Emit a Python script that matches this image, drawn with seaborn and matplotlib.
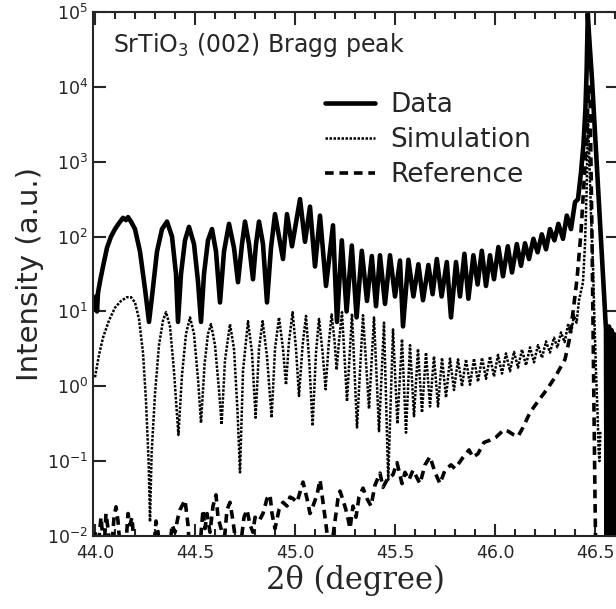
import numpy as np
import pandas as pd
import matplotlib
matplotlib.use('Agg')
import matplotlib.pyplot as plt
import seaborn as sns
from matplotlib.ticker import MultipleLocator, NullLocator, FixedLocator, FormatStrFormatter

# values: 2theta (degree) and log10(intensity)
data_x = [44.000, 44.005, 44.010, 44.015, 44.025, 44.040, 44.060, 44.080, 44.100, 44.120,
          44.140, 44.155, 44.165, 44.180, 44.200, 44.225, 44.250, 44.270, 44.285, 44.310,
          44.335, 44.360, 44.385, 44.405, 44.415, 44.430, 44.450, 44.470, 44.495, 44.515,
          44.530, 44.545, 44.565, 44.585, 44.605, 44.625, 44.645, 44.670, 44.695, 44.715,
          44.735, 44.750, 44.770, 44.790, 44.805, 44.820, 44.840, 44.860, 44.880, 44.900,
          44.920, 44.940, 44.960, 44.985, 45.025, 45.050, 45.075, 45.100, 45.125, 45.155,
          45.190, 45.210, 45.234, 45.258, 45.284, 45.308, 45.334, 45.360, 45.384, 45.405,
          45.425, 45.450, 45.475, 45.500, 45.525, 45.540, 45.567, 45.592, 45.617, 45.640,
          45.667, 45.688, 45.709, 45.733, 45.759, 45.780, 45.805, 45.825, 45.847, 45.867,
          45.892, 45.913, 45.934, 45.955, 45.975, 45.995, 46.017, 46.040, 46.064, 46.085,
          46.109, 46.130, 46.150, 46.170, 46.192, 46.213, 46.234, 46.255, 46.275, 46.297,
          46.317, 46.340, 46.359, 46.380, 46.400, 46.415, 46.430, 46.442, 46.452, 46.458,
          46.464, 46.470, 46.485, 46.500, 46.515, 46.530, 46.545, 46.555, 46.558, 46.562,
          46.567, 46.570, 46.574, 46.578, 46.583, 46.587, 46.590, 46.594, 46.598, 46.601,
          46.604, 46.608, 46.612]
data_log = [1.05, 1.2, 1.0, 1.25, 1.4, 1.6, 1.85, 2.0, 2.1, 2.18,
            2.25, 2.22, 2.26, 2.2, 2.1, 1.8, 1.3, 0.86, 1.2, 1.8,
            2.1, 2.2, 2.0, 1.5, 0.86, 1.5, 1.95, 2.13, 1.9, 1.4,
            0.86, 1.5, 1.95, 2.1, 1.8, 1.12, 1.8, 2.17, 1.85, 1.39,
            1.9, 2.2, 1.9, 1.43, 1.9, 2.2, 1.9, 1.12, 1.85, 2.3,
            2.0, 1.7, 2.3, 1.87, 2.5, 1.93, 2.4, 1.6, 2.28, 1.34,
            2.15, 0.86, 1.95, 1.0, 1.88, 0.92, 1.81, 1.14, 1.74, 1.07,
            1.75, 1.1, 1.75, 1.2, 1.68, 0.8, 1.69, 1.2, 1.63, 1.15,
            1.62, 1.23, 1.7, 1.2, 1.66, 0.92, 1.66, 1.2, 1.77, 1.17,
            1.75, 1.36, 1.81, 1.34, 1.75, 1.43, 1.86, 1.47, 1.87, 1.52,
            1.9, 1.61, 1.91, 1.7, 1.97, 1.79, 2.03, 1.83, 2.1, 1.95,
            2.17, 1.97, 2.28, 2.1, 2.46, 2.5, 2.86, 3.22, 3.7, 4.2,
            4.98, 4.7, 4.1, 3.39, 2.68, 1.97, 1.24, 0.75, -2.5, 0.7,
            0.35, 0.8, -2.5, 0.6, 0.75, 0.2, -2.5, 0.7, 0.5, -2.5,
            0.65, 0.4, -2.5]

sim_x = [44.000, 44.020, 44.040, 44.070, 44.100, 44.130, 44.160, 44.180, 44.200, 44.220,
         44.240, 44.255, 44.268, 44.275, 44.283, 44.300, 44.320, 44.340, 44.355, 44.375,
         44.395, 44.417, 44.435, 44.455, 44.475, 44.495, 44.515, 44.530, 44.548, 44.565,
         44.580, 44.600, 44.620, 44.633, 44.650, 44.675, 44.695, 44.712, 44.725, 44.740,
         44.765, 44.785, 44.803, 44.820, 44.838, 44.860, 44.883, 44.900, 44.920, 44.940,
         44.955, 44.970, 44.988, 45.005, 45.020, 45.038, 45.055, 45.072, 45.088, 45.105,
         45.120, 45.138, 45.153, 45.168, 45.183, 45.198, 45.208, 45.220, 45.235, 45.260,
         45.285, 45.310, 45.340, 45.370, 45.395, 45.420, 45.445, 45.466, 45.490, 45.512,
         45.535, 45.555, 45.575, 45.595, 45.615, 45.635, 45.655, 45.675, 45.695, 45.715,
         45.735, 45.755, 45.775, 45.795, 45.815, 45.835, 45.855, 45.875, 45.895, 45.915,
         45.935, 45.955, 45.975, 45.995, 46.015, 46.035, 46.055, 46.075, 46.095, 46.115,
         46.135, 46.155, 46.175, 46.195, 46.215, 46.235, 46.255, 46.275, 46.295, 46.312,
         46.330, 46.348, 46.365, 46.380, 46.395, 46.408, 46.420, 46.440, 46.450, 46.458,
         46.465, 46.472, 46.480, 46.490, 46.497, 46.505, 46.512, 46.518, 46.522, 46.527]
sim_log = [0.12, 0.42, 0.65, 0.88, 1.05, 1.14, 1.19, 1.19, 1.12, 0.9,
           0.45, -0.2, -1.0, -1.81, -0.9, -0.1, 0.55, 0.88, 0.99, 0.8,
           0.2, -0.65, 0.15, 0.7, 0.92, 0.7, 0.1, -0.49, 0.3, 0.7,
           0.83, 0.55, -0.05, -0.51, 0.35, 0.83, 0.5, -0.3, -1.15, 0.2,
           0.87, 0.45, -0.42, 0.5, 0.87, 0.4, -0.42, 0.5, 0.92, 0.5,
           0.02, 0.6, 0.99, 0.5, -0.13, 0.55, 0.94, 0.3, -0.53, 0.45,
           0.9, 0.45, -0.04, 0.55, 0.96, 0.6, 0.22, 0.6, 0.99, -0.2,
           0.97, -0.55, 0.95, -0.3, 0.92, -0.6, 0.85, -1.25, 0.76, -0.5,
           0.63, -0.62, 0.55, -0.4, 0.5, -0.35, 0.45, -0.27, 0.4, -0.27,
           0.38, -0.15, 0.37, -0.05, 0.36, 0.0, 0.36, 0.02, 0.37, 0.06,
           0.38, 0.1, 0.4, 0.13, 0.42, 0.17, 0.44, 0.2, 0.46, 0.25,
           0.49, 0.28, 0.52, 0.32, 0.55, 0.38, 0.6, 0.45, 0.65, 0.52,
           0.72, 0.59, 0.82, 0.7, 0.95, 0.85, 1.15, 1.39, 1.9, 2.6,
           3.6, 3.0, 2.3, 1.6, 0.9, 0.2, -0.3, -0.85, -1.0, -0.6]

ref_x = [44.000, 44.010, 44.030, 44.045, 44.055, 44.065, 44.080, 44.095, 44.105, 44.115,
         44.130, 44.150, 44.165, 44.175, 44.185, 44.200, 44.290, 44.305, 44.315, 44.330,
         44.370, 44.385, 44.400, 44.415, 44.425, 44.450, 44.465, 44.475, 44.520, 44.540,
         44.550, 44.560, 44.575, 44.590, 44.605, 44.615, 44.630, 44.645, 44.660, 44.675,
         44.690, 44.700, 44.720, 44.745, 44.760, 44.775, 44.790, 44.800, 44.820, 44.840,
         44.860, 44.875, 44.885, 44.900, 44.920, 44.940, 44.960, 44.975, 44.990, 45.010,
         45.040, 45.060, 45.075, 45.090, 45.110, 45.125, 45.140, 45.155, 45.175, 45.195,
         45.215, 45.225, 45.240, 45.260, 45.275, 45.290, 45.305, 45.320, 45.340, 45.360,
         45.380, 45.400, 45.425, 45.440, 45.460, 45.490, 45.510, 45.535, 45.550, 45.570,
         45.590, 45.625, 45.650, 45.675, 45.700, 45.725, 45.750, 45.780, 45.800, 45.840,
         45.870, 45.890, 45.915, 45.945, 45.975, 46.005, 46.045, 46.065, 46.095, 46.115,
         46.140, 46.175, 46.215, 46.260, 46.300, 46.350, 46.370, 46.390, 46.410, 46.430,
         46.440, 46.450, 46.460, 46.468, 46.475, 46.480, 46.485, 46.490, 46.495, 46.500,
         46.505]
ref_log = [-1.95, -2.3, -1.75, -2.2, -1.7, -1.9, -2.3, -1.75, -1.61, -1.8,
           -2.3, -2.3, -1.7, -1.85, -1.75, -2.3, -2.3, -1.8, -1.95, -2.3,
           -2.3, -1.85, -1.95, -1.75, -1.65, -1.52, -1.85, -2.3, -2.3, -1.65,
           -1.9, -1.7, -1.95, -1.6, -1.45, -1.75, -1.9, -2.1, -1.65, -1.55,
           -1.8, -2.0, -2.3, -1.75, -1.65, -1.85, -1.95, -1.75, -1.8, -1.7,
           -1.5, -1.45, -1.7, -1.9, -1.65, -1.55, -1.6, -1.48, -1.5, -1.55,
           -1.28, -1.5, -1.7, -1.6, -1.45, -1.25, -1.55, -1.85, -2.3, -1.9,
           -1.5, -1.4, -1.52, -1.7, -1.9, -1.6, -1.75, -1.48, -1.36, -1.5,
           -1.6, -1.32, -1.16, -1.35, -1.25, -1.18, -1.02, -1.3, -1.15, -1.25,
           -1.12, -1.3, -1.05, -0.94, -1.15, -1.3, -1.12, -1.05, -1.1, -0.95,
           -0.85, -0.95, -0.9, -0.75, -0.72, -0.68, -0.58, -0.6, -0.65, -0.67,
           -0.55, -0.35, -0.2, -0.04, 0.12, 0.36, 0.6, 0.99, 1.43, 2.06,
           2.5, 2.95, 3.48, 4.0, 3.9, 3.0, 2.0, 0.8, -0.4, -1.5,
           -2.5]

y_ticks = [1e-2, 1e-1, 1e0, 1e1, 1e2, 1e3, 1e4, 1e5]

frames = []
for name, xs, ys in [('Data', data_x, data_log),
                     ('Simulation', sim_x, sim_log),
                     ('Reference', ref_x, ref_log)]:
    frames.append(pd.DataFrame({'two_theta': xs,
                                'intensity': np.power(10.0, ys),
                                'series': name}))
df = pd.concat(frames, ignore_index=True)

sns.set_style('ticks')
plt.rcParams['font.family'] = ['DejaVu Sans']
plt.rcParams['axes.linewidth'] = 1.5

fig = plt.figure(figsize=(6.16, 6.09), dpi=100)
# right spine sits just past the right edge of the picture
ax = fig.add_axes([93 / 616, 1 - 536 / 609, 524.5 / 616, 524 / 609])

styles = {'Data': dict(lw=3.3, ls='-'),
          'Simulation': dict(lw=1.8, ls=(0, (1.0, 0.6))),
          'Reference': dict(lw=2.6, ls=(0, (2.4, 1.6)))}
handles = []
for name in ['Data', 'Simulation', 'Reference']:
    sub = df[df['series'] == name]
    sns.lineplot(data=sub, x='two_theta', y='intensity', ax=ax, color='black',
                 sort=False, estimator=None, linewidth=styles[name]['lw'],
                 linestyle=styles[name]['ls'], legend=False)
    handles.append(ax.lines[-1])

ax.set_yscale('log')
ax.set_ylim(1e-2, 1e5)
ax.set_xlim(43.99, 46.6125)
ax.xaxis.set_major_locator(MultipleLocator(0.5))
ax.xaxis.set_minor_locator(MultipleLocator(0.1))
ax.xaxis.set_major_formatter(FormatStrFormatter('%.1f'))
ax.yaxis.set_major_locator(FixedLocator(y_ticks))
ax.yaxis.set_minor_locator(NullLocator())
ax.tick_params(which='both', direction='in', top=True, right=True, width=1.5, labelsize=12.5)
ax.tick_params(which='major', length=9)
ax.tick_params(which='minor', length=5)
ax.tick_params(axis='x', pad=6)

ax.set_xlabel('2θ (degree)', family='DejaVu Serif', fontsize=22, labelpad=2)
ax.set_ylabel('Intensity (a.u.)', fontsize=21, labelpad=2)

ax.text(0.038, 0.937, 'SrTiO$_{\\mathregular{3}}$ (002) Bragg peak', transform=ax.transAxes,
        fontsize=17, va='center', ha='left')

ax.legend(handles, ['Data', 'Simulation', 'Reference'], loc='upper left',
          bbox_to_anchor=(0.397, 0.893), frameon=False, fontsize=19,
          handlelength=1.9, handletextpad=0.57, labelspacing=0.345)

fig.savefig('out.png', dpi=100)
